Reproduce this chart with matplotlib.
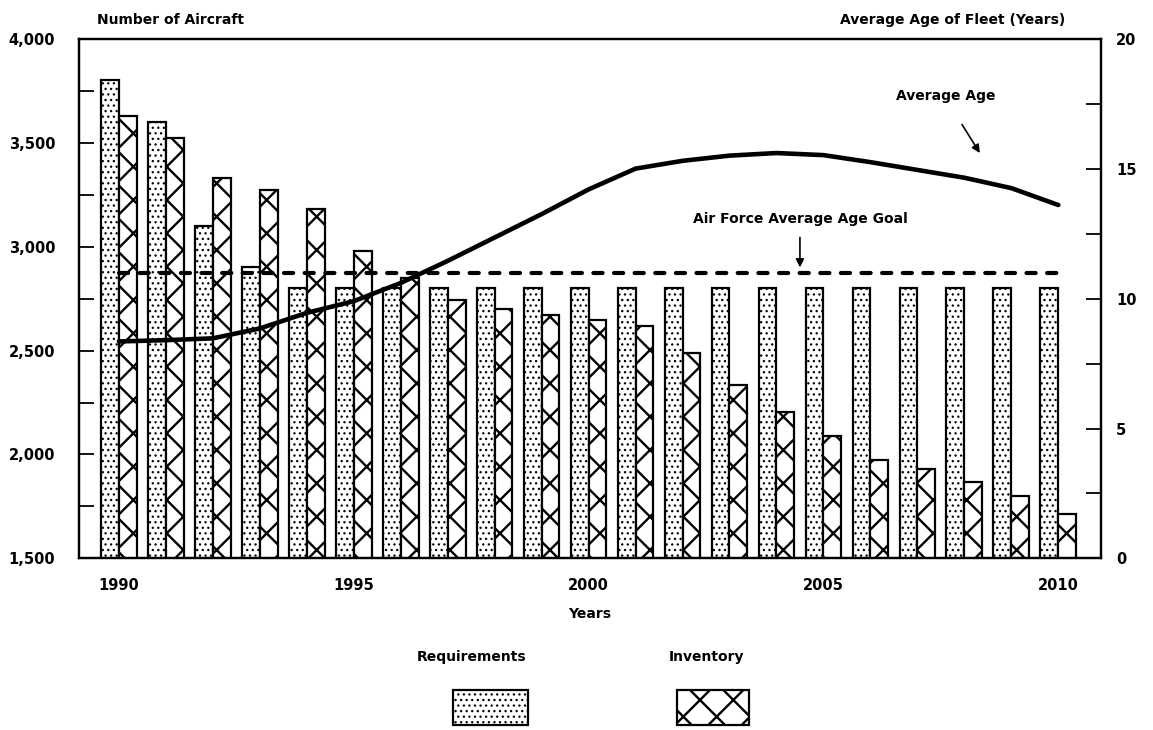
import numpy as np
import matplotlib
matplotlib.use("Agg")
import matplotlib.pyplot as plt
from matplotlib.patches import Rectangle
from matplotlib.ticker import MultipleLocator, FuncFormatter

years = list(range(1990, 2011))
requirements = [3800, 3600, 3100, 2900, 2800, 2800, 2800, 2800, 2800, 2800, 2800,
                2800, 2800, 2800, 2800, 2800, 2800, 2800, 2800, 2800, 2800]
inventory = [3630, 3520, 3330, 3270, 3180, 2980, 2850, 2745, 2700, 2670, 2645,
             2620, 2490, 2335, 2205, 2090, 1975, 1930, 1870, 1800, 1715]
average_age = [8.35, 8.4, 8.47, 8.85, 9.45, 9.9, 10.6, 11.45, 12.35, 13.25, 14.2,
               15.0, 15.3, 15.5, 15.6, 15.52, 15.25, 14.95, 14.65, 14.25, 13.6]
goal_age = 11

plt.rcParams['font.family'] = 'DejaVu Sans'
plt.rcParams['font.weight'] = 'bold'

fig = plt.figure(figsize=(11.53, 7.30), dpi=100)
ax = fig.add_axes([0.0685, 0.235, 0.886, 0.712])
ax2 = ax.twinx()

x = np.array(years)
w = 0.38
with plt.rc_context({'hatch.linewidth': 0.9}):
    ax.bar(x - w / 2, requirements, w, color="white", edgecolor="black",
           linewidth=1.6, hatch="...")
    fig.add_artist(Rectangle((0.393, 0.007), 0.065, 0.048, transform=fig.transFigure,
                             facecolor="white", edgecolor="black", linewidth=1.6,
                             hatch="..."))
with plt.rc_context({'hatch.linewidth': 1.7}):
    ax.bar(x + w / 2, inventory, w, color="white", edgecolor="black",
           linewidth=1.6, hatch="x")
    fig.add_artist(Rectangle((0.587, 0.007), 0.063, 0.048, transform=fig.transFigure,
                             facecolor="white", edgecolor="black", linewidth=1.6,
                             hatch="x"))

ax.set_xlim(1989.15, 2010.9)
ax.set_ylim(1500, 4000)
ax.yaxis.set_major_locator(MultipleLocator(500))
ax.yaxis.set_minor_locator(MultipleLocator(250))
ax.yaxis.set_major_formatter(FuncFormatter(lambda v, p: f"{int(v):,}"))
ax.set_xticks([1990, 1995, 2000, 2005, 2010])
ax.tick_params(axis="x", length=0, pad=14, labelsize=10.5)
ax.tick_params(axis="y", which="both", direction="in", length=11, width=1.3,
               pad=17, labelsize=10.5)
ax.set_xlabel("Years", fontsize=10, fontweight="bold", labelpad=10)

ax2.plot(years, average_age, color="black", linewidth=3.3, solid_capstyle="round")
ax2.plot(years, np.full(len(years), goal_age), color="black", linewidth=3.0,
         linestyle=(0, (2.2, 2.75)), dash_capstyle="round")
ax2.set_ylim(0, 20)
ax2.yaxis.set_major_locator(MultipleLocator(5))
ax2.yaxis.set_minor_locator(MultipleLocator(2.5))
ax2.tick_params(axis="y", which="both", direction="in", length=11, width=1.3,
                pad=11, labelsize=10.5)

for a in (ax, ax2):
    for s in a.spines.values():
        s.set_linewidth(1.6)

ax.text(0.018, 1.035, "Number of Aircraft", transform=ax.transAxes,
        fontsize=10, fontweight="bold", ha="left", va="center")
ax.text(0.965, 1.035, "Average Age of Fleet (Years)", transform=ax.transAxes,
        fontsize=10, fontweight="bold", ha="right", va="center")

ax2.text(2007.6, 17.8, "Average Age", fontsize=10, fontweight="bold",
         ha="center", va="center")
ax2.annotate("", xy=(2008.33, 15.6), xytext=(2007.95, 16.7),
             arrowprops=dict(arrowstyle="-|>", color="black", lw=1.2,
                             mutation_scale=12, shrinkA=0, shrinkB=0))
ax2.text(2004.5, 13.05, "Air Force Average Age Goal", fontsize=10,
         fontweight="bold", ha="center", va="center")
ax2.annotate("", xy=(2004.5, 11.2), xytext=(2004.5, 12.35),
             arrowprops=dict(arrowstyle="-|>", color="black", lw=1.2,
                             mutation_scale=12, shrinkA=0, shrinkB=0))

# legend: labels above swatches
fig.text(0.409, 0.1, "Requirements", fontsize=10, fontweight="bold",
         ha="center", va="center")
fig.text(0.613, 0.1, "Inventory", fontsize=10, fontweight="bold",
         ha="center", va="center")

fig.savefig("out.png", dpi=100)
